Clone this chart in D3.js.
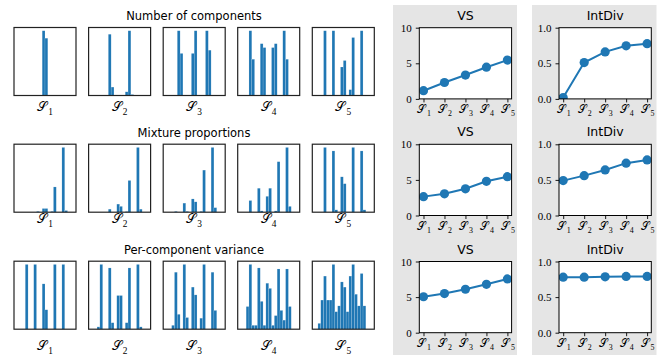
<!DOCTYPE html>
<meta charset="utf-8">
<div id="area"></div>
<script src="https://d3js.org/d3.v7.min.js"></script>
<style>
  body { margin: 0; background: #fff; }
  svg text { font-family: "DejaVu Sans", "Liberation Sans", sans-serif; }
  .num { font-family: "Liberation Serif", "DejaVu Serif", serif; font-size: 11px; fill: #000; }
</style>
<script>
var sets = ["1", "2", "3", "4", "5"];
var rowTitles = ["Number of components", "Mixture proportions", "Per-component variance"];
var metricNames = ["VS", "IntDiv"];

// histogram bin heights (20 bins per panel, tallest bin = 1)
var componentsHist = [
  [0,0,0,0,0,0,0,0,0,1,0.885,0,0,0,0,0,0,0,0,0],
  [0,0,0,0,0,0,0.946,0.13,0,0,0,0,0.057,1,0.015,0,0,0,0,0],
  [0,0,0,0,1,0.65,0,0,0,0.65,1,0,0,0,1,0.70,0,0,0,0],
  [0,0,0,1,0.56,0,0,0.80,0.74,0,0,0.74,0.80,0,0,1,0.56,0,0,0],
  [0,0,0,1,0,0,1,0,0,0.44,0.54,0,0.09,0.895,0,0,1,0,0,0]
];
var proportionsHist = [
  [0,0,0,0,0,0,0,0.012,0,0.057,0.057,0,0.012,0.39,0,0,1,0.026,0,0],
  [0,0,0,0,0,0,0.047,0,0,0.125,0.09,0,0.01,0.49,0,0,1,0.047,0,0],
  [0,0,0,0.012,0,0,0.14,0.012,0,0.205,0.16,0,0.012,0.65,0,0,1,0.07,0,0],
  [0,0,0,0.18,0,0,0.37,0.02,0,0.245,0.37,0,0.02,0.78,0,0,1,0.09,0,0],
  [0,0,0,1,0,0,0.946,0.036,0,0.546,0.44,0,0,1,0,0,0.946,0.036,0,0]
];
var varianceHist = [
  [0,0,0,1,0,0,1,0,0,0.70,0.30,0,0,1,0,0,1,0,0,0],
  [0,0,0.036,1,0,0,0.946,0.10,0,0.52,0.52,0,0.10,0.946,0,0,1,0.036,0,0],
  [0,0,0.06,0.88,0.23,0,1,0.18,0,0.65,0.53,0,0.17,1,0,0,0.88,0.29,0,0],
  [0,0,0.35,1,0.06,0.06,0.946,0.43,0.06,0.71,0.63,0.06,0.21,0.93,0.29,0.14,0.93,0.35,0,0],
  [0,0.09,0.45,0.82,0.45,0.45,1,0.27,0.36,0.73,0.65,0.27,0.82,1,0.54,0.36,0.86,0.36,0,0]
];
var histRows = [componentsHist, proportionsHist, varianceHist];

var vsValues = [
  [1.15, 2.3, 3.35, 4.45, 5.45],
  [2.65, 3.05, 3.75, 4.8, 5.45],
  [5.05, 5.5, 6.1, 6.8, 7.55]
];
var intDivValues = [
  [0.02, 0.51, 0.66, 0.745, 0.775],
  [0.49, 0.56, 0.64, 0.735, 0.78],
  [0.78, 0.78, 0.785, 0.79, 0.79]
];
var vsTicks = [0, 5, 10];
var intDivTicks = [0, 0.5, 1.0];

var blue = "#1f77b4";
var W = 662, H = 362;

var svg = d3.select("#area").append("svg")
    .attr("width", W)
    .attr("height", H);

// calligraphic S with subscript
function setLabel(sel, i) {
  sel.append("tspan").attr("font-family", "DejaVu Serif, serif").attr("dy", -1).text("\uD835\uDCAE");
  sel.append("tspan").attr("font-family", "Liberation Serif, serif").attr("font-size", "0.72em")
    .attr("dx", 1).attr("dy", 3.5).text(sets[i]);
}

// ---- left: histograms ----
var histLeft = [14, 88.6, 163.2, 237.7, 312.3],
    histW = 62, histH = 68,
    rowTop = [27.5, 144.2, 261.2],
    titleY = [19.5, 136.5, 253.5],
    labelY = [112, 224, 351];

histRows.forEach(function(rowData, r) {
  svg.append("text")
    .attr("x", 194).attr("y", titleY[r])
    .attr("text-anchor", "middle")
    .attr("font-size", 11.5)
    .text(rowTitles[r]);

  rowData.forEach(function(bins, p) {
    var g = svg.append("g")
      .attr("transform", "translate(" + histLeft[p] + "," + rowTop[r] + ")");
    var x = d3.scaleLinear().domain([-1, 21]).range([0, histW]);
    var y = d3.scaleLinear().domain([0, d3.max(bins) * 1.05]).range([histH, 0]);

    g.selectAll("rect.bar")
      .data(bins)
      .enter()
      .append("rect")
        .attr("class", "bar")
        .attr("x", function(d, i) { return x(i); })
        .attr("width", x(1) - x(0))
        .attr("y", function(d) { return y(d); })
        .attr("height", function(d) { return histH - y(d); })
        .attr("fill", blue)
        .attr("stroke", "rgba(255,255,255,0.35)")
        .attr("stroke-width", 0.4);

    g.append("rect")
      .attr("width", histW).attr("height", histH)
      .attr("fill", "none").attr("stroke", "#222").attr("stroke-width", 1.2);

    var t = svg.append("text")
      .attr("x", histLeft[p] + histW / 2).attr("y", labelY[r])
      .attr("text-anchor", "middle")
      .attr("font-size", 13);
    setLabel(t, p);
  });
});

// ---- right: metric line charts ----
var colBg = [[393, 517], [532, 656.5]];
colBg.forEach(function(c) {
  svg.append("rect")
    .attr("x", c[0]).attr("y", 5)
    .attr("width", c[1] - c[0]).attr("height", 350)
    .attr("fill", "#e5e5e5");
});

var plotLeft = [419.3, 559],
    plotW = 92.3,
    plotTop = [27.7, 144.3, 261.5],
    plotH = 71.2;

[vsValues, intDivValues].forEach(function(metric, m) {
  metric.forEach(function(vals, r) {
    var g = svg.append("g")
      .attr("transform", "translate(" + plotLeft[m] + "," + plotTop[r] + ")");
    var x = d3.scaleLinear().domain([-0.2, 4.2]).range([0, plotW]);
    var y = d3.scaleLinear().domain(m === 0 ? [0, 10] : [0, 1]).range([plotH, 0]);

    g.append("rect").attr("width", plotW).attr("height", plotH).attr("fill", "#fff");

    var clipId = "clip" + m + r;
    g.append("clipPath").attr("id", clipId)
      .append("rect").attr("width", plotW).attr("height", plotH);

    var yAxis = g.append("g")
      .call(d3.axisLeft(y)
        .tickValues(m === 0 ? vsTicks : intDivTicks)
        .tickSize(3.5).tickPadding(4)
        .tickFormat(m === 0 ? d3.format("d") : d3.format(".1f")));
    yAxis.select(".domain").remove();
    yAxis.selectAll("text").attr("class", "num").attr("font-family", null).attr("font-size", null);

    var xAxis = g.append("g")
      .attr("transform", "translate(0," + plotH + ")")
      .call(d3.axisBottom(x).tickValues([0, 1, 2, 3, 4]).tickSize(3.5).tickFormat(""));
    xAxis.select(".domain").remove();
    xAxis.selectAll(".tick").each(function(d) {
      var t = d3.select(this).append("text")
        .attr("y", 15)
        .attr("fill", "#000")
        .attr("text-anchor", "middle")
        .attr("font-size", 11);
      setLabel(t, d);
    });
    g.selectAll(".tick line").attr("stroke", "#000").attr("stroke-width", 0.9);

    var line = d3.line()
      .x(function(d, i) { return x(i); })
      .y(function(d) { return y(d); });

    var data = g.append("g").attr("clip-path", "url(#" + clipId + ")");
    data.append("path")
      .datum(vals)
      .attr("d", line)
      .attr("fill", "none")
      .attr("stroke", blue)
      .attr("stroke-width", 2);
    data.selectAll("circle")
      .data(vals)
      .enter()
      .append("circle")
        .attr("cx", function(d, i) { return x(i); })
        .attr("cy", function(d) { return y(d); })
        .attr("r", 4.6)
        .attr("fill", blue);

    g.append("rect")
      .attr("width", plotW).attr("height", plotH)
      .attr("fill", "none").attr("stroke", "#000").attr("stroke-width", 1);

    svg.append("text")
      .attr("x", plotLeft[m] + plotW / 2).attr("y", plotTop[r] - 8)
      .attr("text-anchor", "middle")
      .attr("font-size", 12.5)
      .text(metricNames[m]);
  });
});
</script>
